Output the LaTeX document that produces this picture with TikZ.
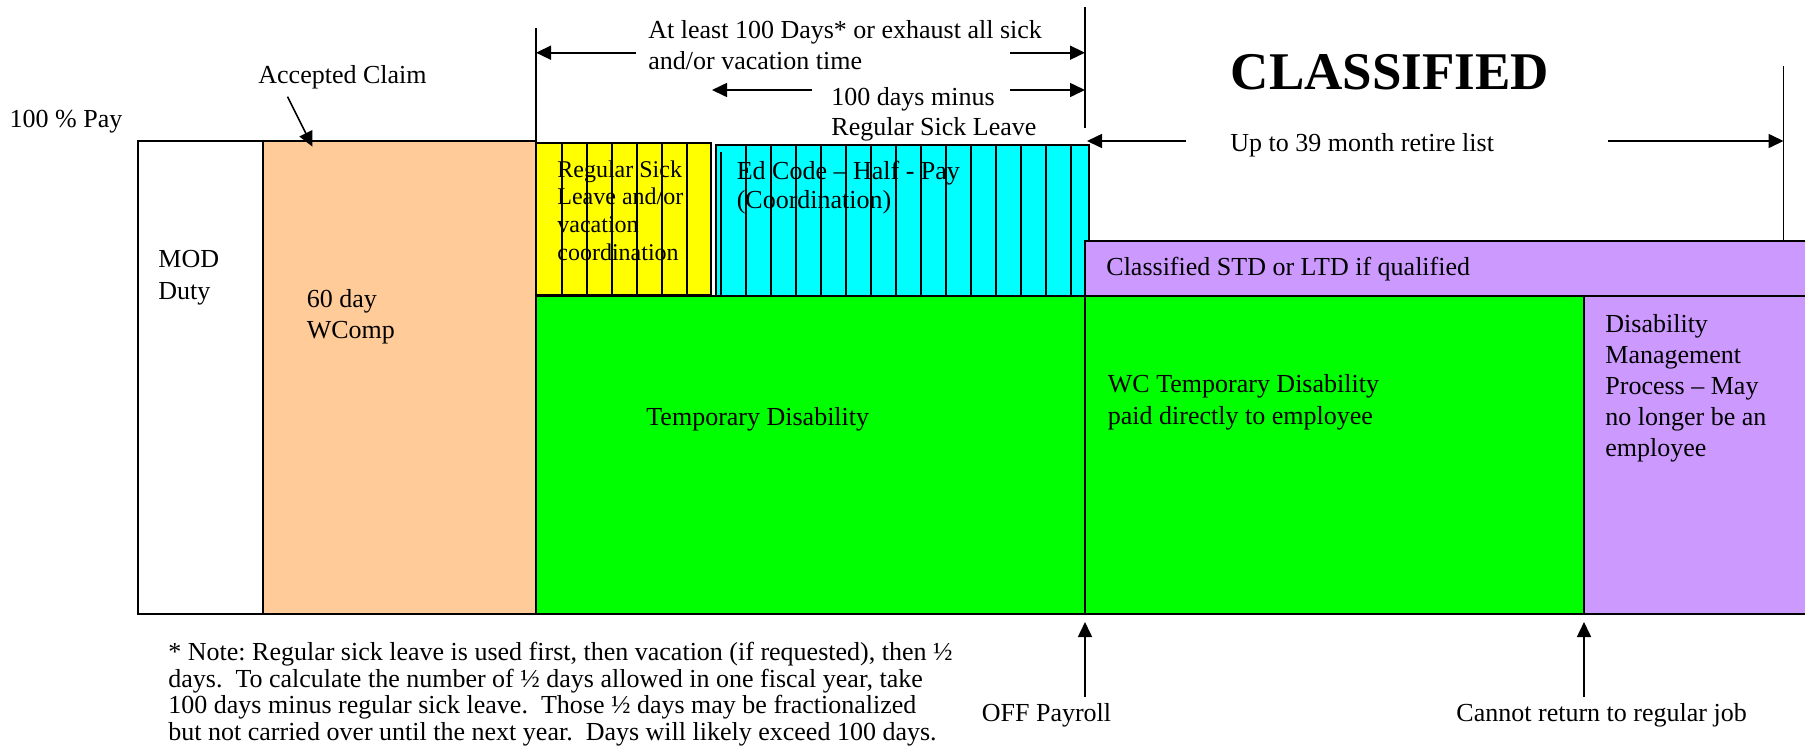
\documentclass[tikz,border=0pt]{standalone}
\usepackage{fontspec}
\setmainfont{Liberation Serif}
\usetikzlibrary{arrows.meta}
\definecolor{peach}{HTML}{FFCC99}
\definecolor{lgreen}{HTML}{00FF00}
\definecolor{lav}{HTML}{CC99FF}
\definecolor{cyn}{HTML}{00FFFF}
\definecolor{ylw}{HTML}{FFFF00}
\frenchspacing
\begin{document}
\begin{tikzpicture}[x=0.5pt,y=-0.5pt,
  box/.style={draw=black, line width=1pt},
  stripe/.style={draw=black, line width=0.8pt},
  arr/.style={-{Triangle[length=7.5pt,width=7pt]}, line width=0.8pt},
  guide/.style={line width=0.8pt},
  txt/.style={inner sep=0pt, align=left, anchor=west, font=\fontsize{13}{15.5}\selectfont},
  ctxt/.style={inner sep=0pt, align=center, font=\fontsize{13}{15.5}\selectfont},
]
\useasboundingbox (0,0) rectangle (1805,751);
\fill[white] (0,0) rectangle (1805,751);

% bars
\draw[box, fill=white] (138,141) rectangle (262.5,614);
\draw[box, fill=peach] (262.5,141) rectangle (536,614);
\draw[box, fill=lgreen] (536,296) rectangle (1085,614);
\draw[box, fill=ylw] (536,143) rectangle (711,295);
\foreach \x in {562,587,...,687} \draw[stripe] (\x,143) -- (\x,295);
\draw[box, fill=cyn] (715.7,145) rectangle (1089,295.5);
\draw[stripe] (721,152) -- (721,295.5);
\foreach \x in {746,771,...,1071} \draw[stripe] (\x,145) -- (\x,295.5);
\draw[box, fill=lav] (1085,240.5) rectangle (1815,296);
\draw[box, fill=lgreen] (1085,296) rectangle (1584,614);
\draw[box, fill=lav] (1584,296) rectangle (1815,614);

% guide lines
\coordinate (g1t) at (536,28);   \coordinate (g1b) at (536,141);
\coordinate (g2t) at (1085,7);   \coordinate (g2b) at (1085,128);
\coordinate (g3t) at (1783.5,66); \coordinate (g3b) at (1783.5,240.5);
\draw[guide] (g1t) -- (g1b);
\draw[guide] (g2t) -- (g2b);
\draw[guide] (g3t) -- (g3b);

% arrow end points
\coordinate (r1a) at (636,52.7);  \coordinate (r1b) at (536,52.7);
\coordinate (r1c) at (1010,52.7); \coordinate (r1d) at (1085,52.7);
\coordinate (r2a) at (812,90);    \coordinate (r2b) at (712,90);
\coordinate (r2c) at (1010,90);   \coordinate (r2d) at (1085,90);
\coordinate (r3a) at (1186,141);  \coordinate (r3b) at (1087,141);
\coordinate (r3c) at (1608,141);  \coordinate (r3d) at (1783.5,141);
\coordinate (acA) at (287.5,96.7); \coordinate (acB) at (312.5,146.7);
\coordinate (offA) at (1085,697); \coordinate (offB) at (1085,622);
\coordinate (cnA) at (1584,697);  \coordinate (cnB) at (1584,622);
\draw[arr] (r1a) -- (r1b);
\draw[arr] (r1c) -- (r1d);
\draw[arr] (r2a) -- (r2b);
\draw[arr] (r2c) -- (r2d);
\draw[arr] (r3a) -- (r3b);
\draw[arr] (r3c) -- (r3d);
\draw[arr] (acA) -- (acB);
\draw[arr] (offA) -- (offB);
\draw[arr] (cnA) -- (cnB);

% texts
\node[txt] (pay) at (9.3,121.5) {100 \% Pay};
\node[txt] (acc) at (258,77) {Accepted Claim};
\node[txt, font=\fontsize{13}{16}\selectfont] (mod) at (158,278) {MOD\\Duty};
\node[txt, font=\fontsize{13}{15.65}\selectfont] (wc60) at (306.4,316.5) {60 day\\WComp};
\node[txt, font=\fontsize{13}{15.3}\selectfont] (least) at (648,45) {At least 100 Days* or exhaust all sick\\and/or vacation time};
\node[txt, font=\fontsize{13}{15}\selectfont] (minus) at (831,114) {100 days minus\\Regular Sick Leave};
\node[inner sep=0pt, font=\fontsize{26.5}{30}\selectfont\bfseries] (cls) at (1390,72) {CLASSIFIED};
\node[txt] (retire) at (1230,145) {Up to 39 month retire list};
\node[txt, font=\fontsize{12}{13.85}\selectfont] (reg) at (557,210.5) {Regular Sick\\Leave and/or\\vacation\\coordination};
\node[txt, font=\fontsize{13}{14.35}\selectfont] (ed) at (736.4,187.4) {Ed Code – Half - Pay\\(Coordination)};
\node[txt] (std) at (1106,269.5) {Classified STD or LTD if qualified};
\node[txt] (temp) at (646,419) {Temporary Disability};
\node[txt, font=\fontsize{13}{16}\selectfont] (wctd) at (1107.5,402) {WC Temporary Disability\\paid directly to employee};
\node[txt] (dmp) at (1605,388.5) {Disability\\Management\\Process – May\\no longer be an\\employee};
\node[ctxt] (off) at (1046.5,715) {OFF Payroll};
\node[ctxt] (cannot) at (1601.6,715) {Cannot return to regular job};
\node[txt, font=\fontsize{13}{13.3}\selectfont] (note) at (168,694) {* Note: Regular sick leave is used first, then vacation (if requested), then ½\\days.\ \ To calculate the number of ½ days allowed in one fiscal year, take\\100 days minus regular sick leave.\ \ Those ½ days may be fractionalized\\but not carried over until the next year.\ \ Days will likely exceed 100 days.};
\end{tikzpicture}
\end{document}
